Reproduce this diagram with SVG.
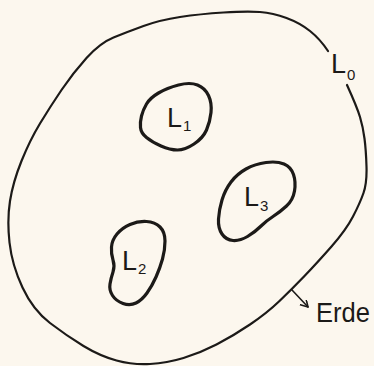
<svg xmlns="http://www.w3.org/2000/svg" width="374" height="366" viewBox="0 0 374 366">
<style>
.bg{fill:#fcf7ee}
.outer{fill:none;stroke:#1c1a18;stroke-width:2.2;stroke-linecap:round;stroke-linejoin:round}
.inner{fill:none;stroke:#1c1a18;stroke-width:3.2;stroke-linejoin:round}
.lbl{font-family:"Liberation Sans",Arial,sans-serif;fill:#1c1a18;font-size:27px}
.sub{font-size:15px}
.arr{fill:none;stroke:#1c1a18;stroke-width:1.6;stroke-linecap:round}
</style>
<defs>
<marker id="ah" markerWidth="10" markerHeight="10" refX="7" refY="4" orient="auto" markerUnits="userSpaceOnUse">
<path d="M0,0 L7,4 L0,8" fill="none" stroke="#1c1a18" stroke-width="1.6" stroke-linecap="round" stroke-linejoin="round"/>
</marker>
</defs>
<rect class="bg" x="0" y="0" width="374" height="366"/>
<g id="L0">
<path class="outer" d="M328,51 Q320,39 310,31 Q300,23 286.5,18 Q273,13 260,12 Q247,11 223.5,12.5 Q200,14 180,17 Q160,20 143.5,26 Q127,32 113.5,37.5 Q100,43 86.5,58 Q73,73 61.5,90 Q50,107 40,123.5 Q30,140 21.5,161 Q13,182 10,201 Q7,220 9.5,242.5 Q12,265 22.5,287.5 Q33,310 50,323 Q67,336 83.5,346 Q100,356 116.5,360.5 Q133,365 150,364 Q167,363 183.5,358 Q200,353 216.5,344.5 Q233,336 250,324.5 Q267,313 279.5,301 Q292,289 304.5,276 Q317,263 331.5,246.5 Q346,230 353,216.5 Q360,203 363.5,193 Q367,183 366.5,166.5 Q366,150 364.5,138.5 Q363,127 360,117 Q357,107 347,85"/>
<text class="lbl" x="331" y="73" font-size="26">L<tspan class="sub" x="347" y="80">0</tspan></text>
</g>
<g id="L1">
<path class="inner" d="M141.5,116 Q143,110 146.5,104 Q150,98 158.5,93 Q167,88 178.5,85 Q190,82 197.5,85 Q205,88 208.5,95.5 Q212,103 211,112.5 Q210,122 206.5,130 Q203,138 194,144 Q185,150 177.5,150 Q170,150 161,146 Q152,142 146.5,137.5 Q141,133 140.5,127.5 Q140,122 141.5,116 Z"/>
<text class="lbl" x="167" y="127">L<tspan class="sub" x="183" y="131">1</tspan></text>
</g>
<g id="L2">
<path class="inner" d="M111.5,247 Q112,240 117,234 Q122,228 130,224.5 Q138,221 146.5,221.5 Q155,222 160,227 Q165,232 165,241 Q165,250 162.5,259 Q160,268 156,277 Q152,286 147,293 Q142,300 136,303 Q130,306 123,303.5 Q116,301 112.5,295.5 Q109,290 110,284 Q111,278 113,272 Q115,266 113,260 Q111,254 111.5,247 Z"/>
<text class="lbl" x="122" y="270">L<tspan class="sub" x="138" y="274">2</tspan></text>
</g>
<g id="L3">
<path class="inner" d="M222,200 Q225,190 231,182 Q237,174 246,169 Q255,164 266,162.5 Q277,161 284,164 Q291,167 293.5,174.5 Q296,182 294.5,191 Q293,200 286.5,206 Q280,212 273,216.5 Q266,221 260.5,226.5 Q255,232 247.5,236.5 Q240,241 233,240.5 Q226,240 222,234 Q218,228 218.5,219 Q219,210 222,200 Z"/>
<text class="lbl" x="244" y="206">L<tspan class="sub" x="260" y="211">3</tspan></text>
</g>
<g id="connectors">
<line class="arr" x1="292" y1="290" x2="308" y2="307" marker-end="url(#ah)"/>
</g>
<g id="Erde">
<text class="lbl" x="316" y="322" font-size="27" textLength="54" lengthAdjust="spacingAndGlyphs">Erde</text>
</g>
</svg>
